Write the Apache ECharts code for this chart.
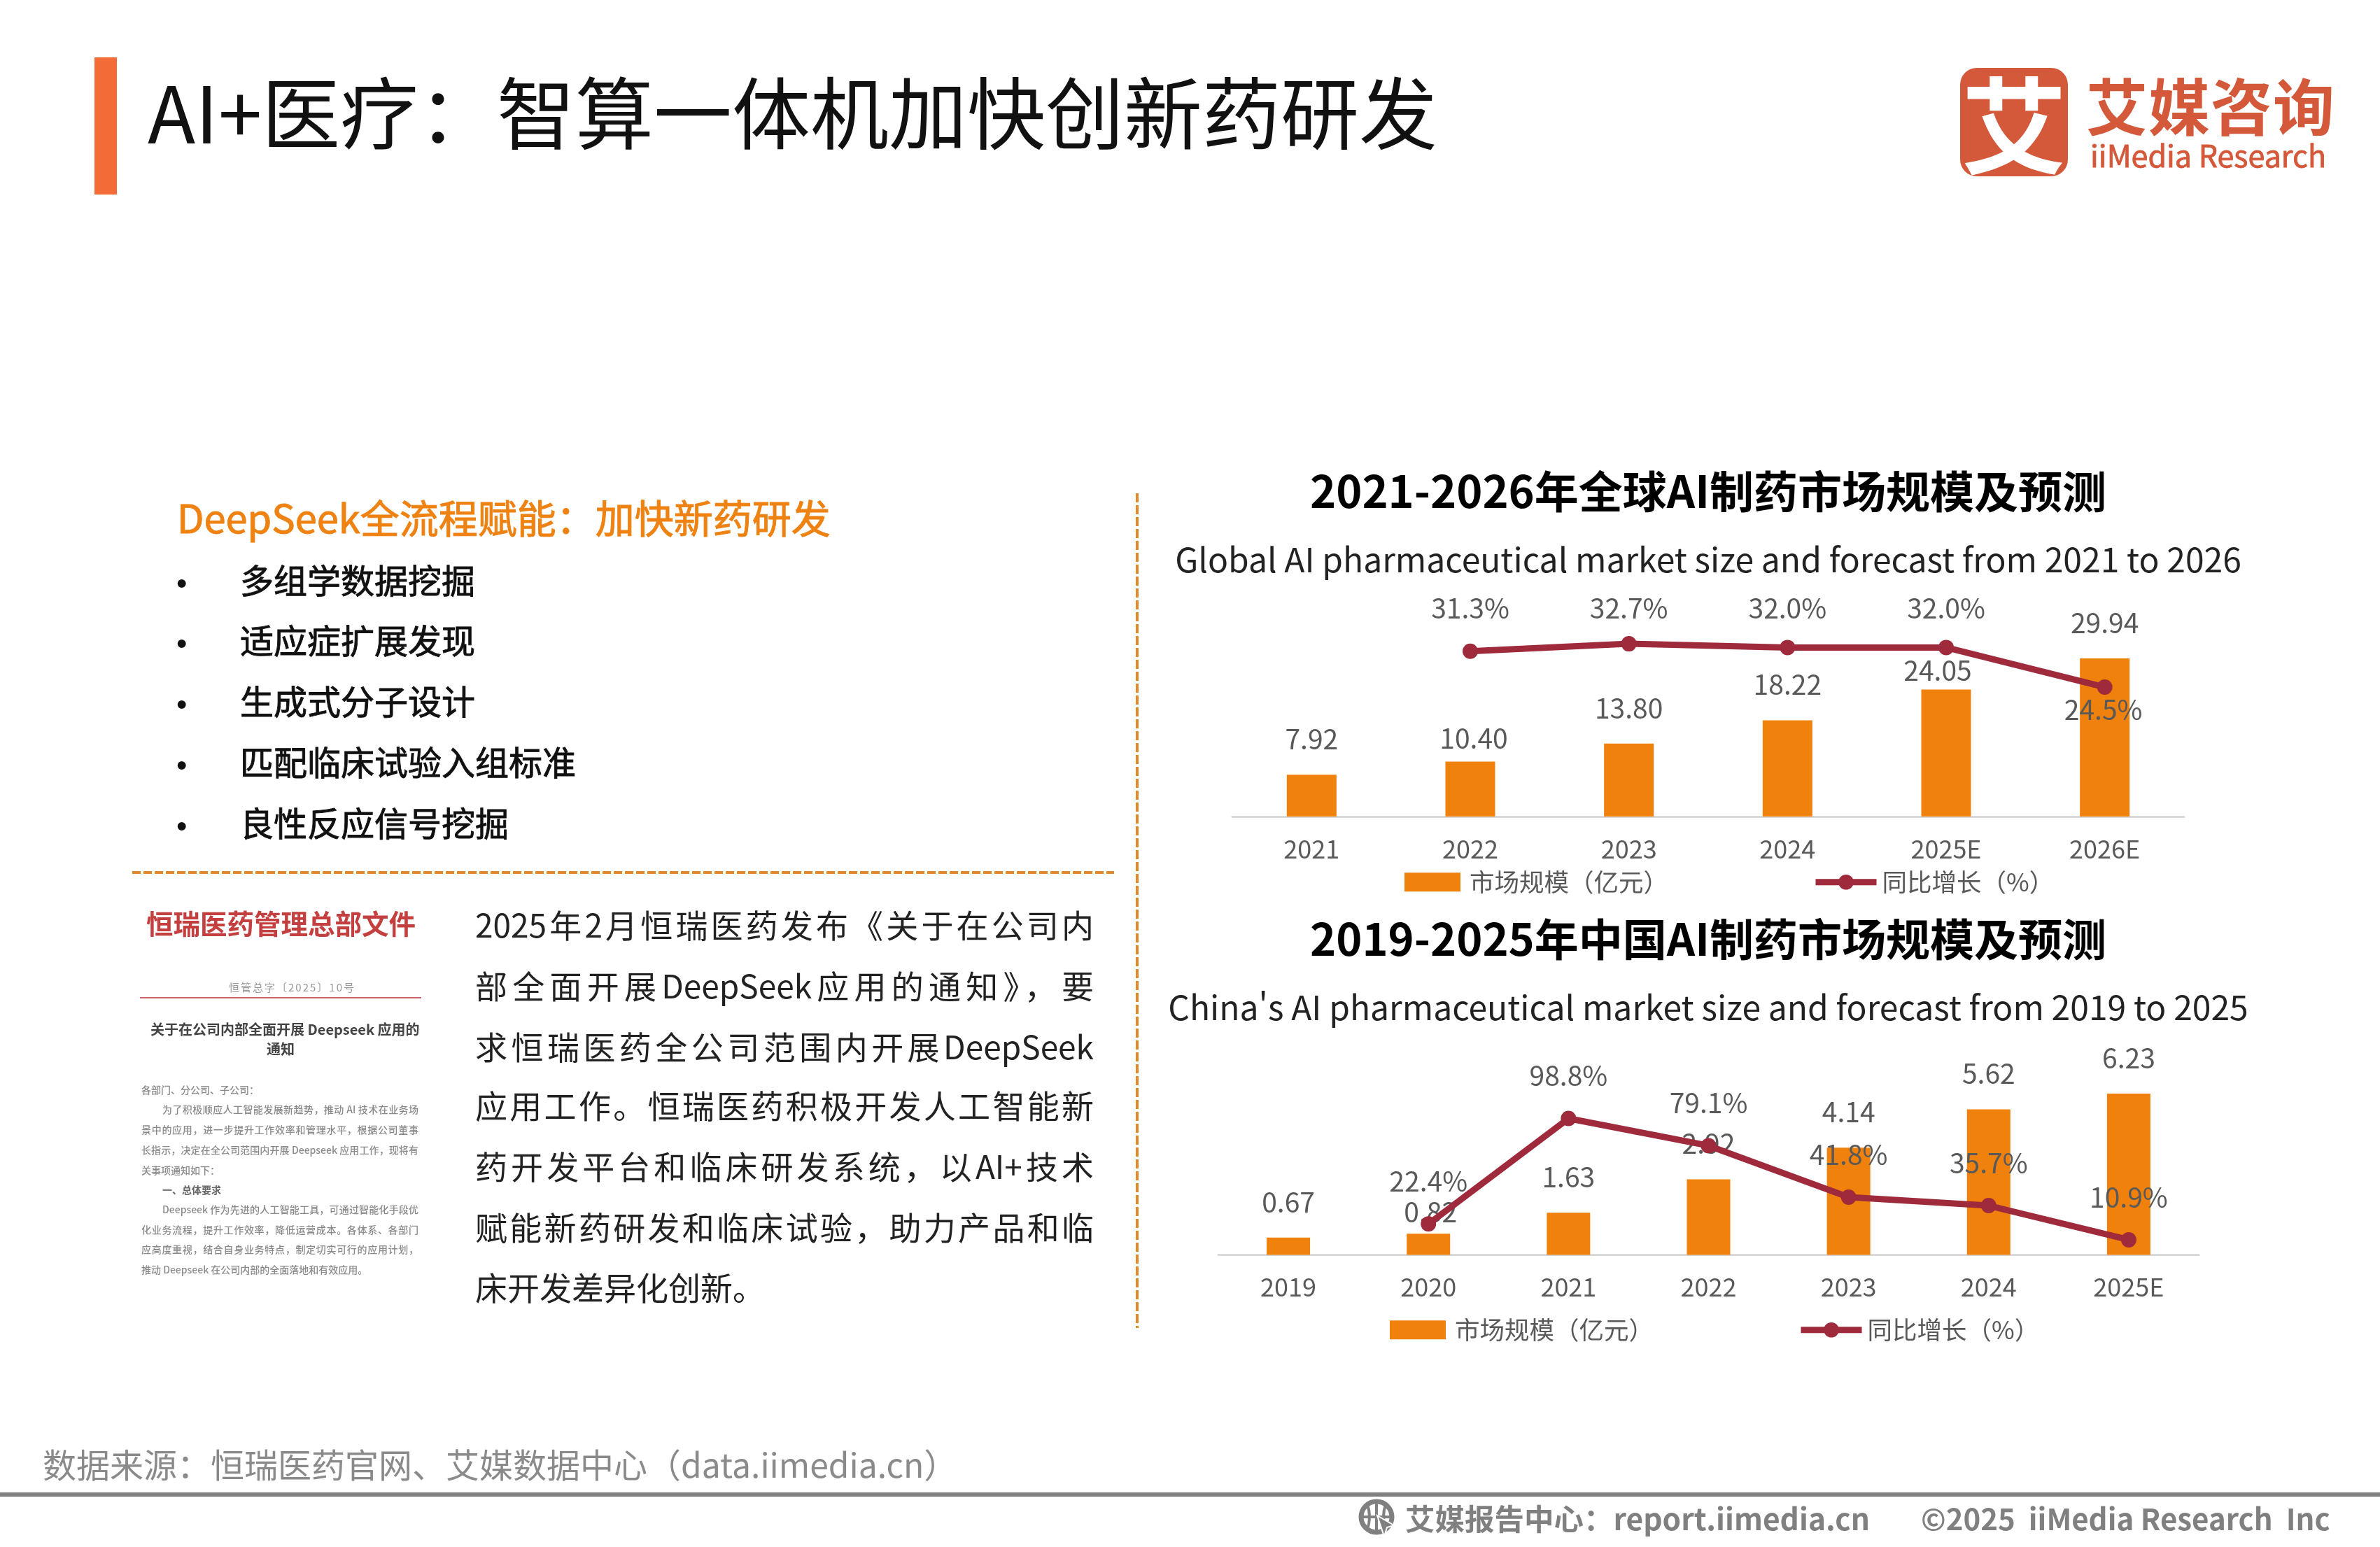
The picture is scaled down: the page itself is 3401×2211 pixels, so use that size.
<!DOCTYPE html>
<html lang="zh-CN">
<head>
<meta charset="UTF-8">
<title>AI+医疗：智算一体机加快创新药研发</title>
<script src="https://cdn.jsdelivr.net/npm/echarts@6/dist/echarts.min.js"></script>
<style>
html,body{margin:0;padding:0;background:#fff;}
body{width:3401px;height:2211px;position:relative;overflow:hidden;font-family:"Noto Sans CJK SC","Noto Sans",sans-serif;}
#chart{position:absolute;left:0;top:0;width:3401px;height:2211px;}
.abs{position:absolute;white-space:nowrap;line-height:1;}
.bar-mark{position:absolute;left:135px;top:82px;width:32px;height:196px;background:#F36B36;}
.main-title{left:211px;top:100px;font-size:112px;color:#111;}
.logo-box{position:absolute;left:2801px;top:97px;width:154px;height:155px;border-radius:24px;background:#D4583A;color:#fff;font-size:150px;font-weight:bold;line-height:150px;text-align:center;overflow:hidden;}
.logo-cn{left:2981px;top:104px;font-size:88px;font-weight:bold;color:#D4583A;letter-spacing:1px;}
.logo-en{left:2987px;top:199px;font-size:43px;color:#D4583A;-webkit-text-stroke:.8px #D4583A;}
.lead{left:253px;top:710px;font-size:56px;color:#EE8212;-webkit-text-stroke:1px #EE8212;}
.item{left:343px;font-size:48px;color:#111;-webkit-text-stroke:.9px #111;}
.dot{left:252px;font-family:"Liberation Sans";font-size:44px;color:#111;}
.hline{position:absolute;left:189px;top:1245px;width:1403px;height:4px;background:repeating-linear-gradient(90deg,#E08B2A 0 12px,transparent 12px 16px);}
.vline{position:absolute;left:1623px;top:705px;width:4px;height:1193px;background:repeating-linear-gradient(180deg,#E08B2A 0 13px,transparent 13px 17px);}
.para{position:absolute;left:679px;width:884px;font-size:46px;line-height:60px;color:#222;text-align:justify;text-align-last:justify;text-justify:inter-character;}
.para.last{text-align-last:left;}
.doc-red{left:209px;top:1299px;font-size:38.5px;font-weight:bold;color:#C44040;}
.doc-no{left:327px;top:1403px;font-size:15px;color:#999;letter-spacing:2px;}
.doc-rule{position:absolute;left:200px;top:1425px;width:402px;height:2px;background:#CC6666;}
.doc-h{left:215px;font-size:20px;font-weight:bold;color:#444;}
.doc-p{position:absolute;left:202px;width:396px;font-size:14px;line-height:20px;color:#8a8a8a;font-weight:500;text-align:justify;text-align-last:justify;text-justify:inter-character;}
.doc-p.last{text-align-last:left;}
.source{left:61px;top:2067px;font-size:48px;color:#8a8a8a;}
.foot-line{position:absolute;left:0;top:2133px;width:3401px;height:6px;background:#808080;}
.foot{top:2148px;font-size:42.5px;font-weight:bold;color:#808080;}
</style>
</head>
<body>
<div id="chart"></div>

<div class="bar-mark"></div>
<div class="abs main-title">AI+医疗：智算一体机加快创新药研发</div>
<div class="logo-box">艾</div>
<div class="abs logo-cn">艾媒咨询</div>
<div class="abs logo-en">iiMedia Research</div>

<div class="abs lead">DeepSeek全流程赋能：加快新药研发</div>
<div class="abs dot" style="top:812px">•</div><div class="abs item" style="top:803px">多组学数据挖掘</div>
<div class="abs dot" style="top:898px">•</div><div class="abs item" style="top:889px">适应症扩展发现</div>
<div class="abs dot" style="top:985px">•</div><div class="abs item" style="top:976px">生成式分子设计</div>
<div class="abs dot" style="top:1072px">•</div><div class="abs item" style="top:1063px">匹配临床试验入组标准</div>
<div class="abs dot" style="top:1159px">•</div><div class="abs item" style="top:1150px">良性反应信号挖掘</div>
<div class="hline"></div>
<div class="vline"></div>

<div class="abs doc-red">恒瑞医药管理总部文件</div>
<div class="abs doc-no">恒管总字〔2025〕10号</div>
<div class="doc-rule"></div>
<div class="abs doc-h" style="top:1461px">关于在公司内部全面开展 Deepseek 应用的</div>
<div class="abs doc-h" style="top:1489px;left:381px">通知</div>
<div class="doc-p last" style="top:1547px">各部门、分公司、子公司：</div>
<div class="doc-p" style="top:1575px;left:232px;width:366px">为了积极顺应人工智能发展新趋势，推动 AI 技术在业务场</div>
<div class="doc-p" style="top:1604px">景中的应用，进一步提升工作效率和管理水平，根据公司董事</div>
<div class="doc-p" style="top:1633px">长指示，决定在全公司范围内开展 Deepseek 应用工作，现将有</div>
<div class="doc-p last" style="top:1662px">关事项通知如下：</div>
<div class="doc-p last" style="top:1690px;left:232px;font-weight:bold;color:#666">一、总体要求</div>
<div class="doc-p" style="top:1718px;left:232px;width:366px">Deepseek 作为先进的人工智能工具，可通过智能化手段优</div>
<div class="doc-p" style="top:1747px">化业务流程，提升工作效率，降低运营成本。各体系、各部门</div>
<div class="doc-p" style="top:1775px">应高度重视，结合自身业务特点，制定切实可行的应用计划，</div>
<div class="doc-p last" style="top:1804px">推动 Deepseek 在公司内部的全面落地和有效应用。</div>

<div class="para" style="top:1290px">2025年2月恒瑞医药发布《关于在公司内</div>
<div class="para" style="top:1377px">部全面开展DeepSeek应用的通知》，要</div>
<div class="para" style="top:1464px">求恒瑞医药全公司范围内开展DeepSeek</div>
<div class="para" style="top:1548px">应用工作。恒瑞医药积极开发人工智能新</div>
<div class="para" style="top:1635px">药开发平台和临床研发系统，以AI+技术</div>
<div class="para" style="top:1722px">赋能新药研发和临床试验，助力产品和临</div>
<div class="para last" style="top:1808px">床开发差异化创新。</div>

<div class="abs source">数据来源：恒瑞医药官网、艾媒数据中心（data.iimedia.cn）</div>
<div class="foot-line"></div>
<svg style="position:absolute;left:1940px;top:2142px" width="56" height="56" viewBox="0 0 56 56">
  <circle cx="27" cy="26" r="22" fill="none" stroke="#808080" stroke-width="7"/>
  <path d="M5 26H49M27 4V48M14 8Q20 26 14 44M40 8Q34 26 40 44" fill="none" stroke="#808080" stroke-width="4"/>
  <path d="M28 24L52 38L42 41L38 54Z" fill="#808080" stroke="#fff" stroke-width="2"/>
</svg>
<div class="abs foot" style="left:2008px">艾媒报告中心：report.iimedia.cn</div>
<div class="abs foot" style="left:2745px;font-size:42px">©2025&nbsp; iiMedia Research&nbsp; Inc</div>

<script>
var globalYears = ['2021', '2022', '2023', '2024', '2025E', '2026E'];
var globalSize = [7.92, 10.40, 13.80, 18.22, 24.05, 29.94];
var globalGrowth = [null, 31.3, 32.7, 32.0, 32.0, 24.5];

var chinaYears = ['2019', '2020', '2021', '2022', '2023', '2024', '2025E'];
var chinaSize = [0.67, 0.82, 1.63, 2.92, 4.14, 5.62, 6.23];
var chinaGrowth = [null, 22.4, 98.8, 79.1, 41.8, 35.7, 10.9];

var sizeName = '市场规模（亿元）';
var growthName = '同比增长（%）';
var BAR = '#EF810C', LINE = '#9E2A3B', GREY = '#595959';
var FONT = '"Noto Sans CJK SC"';

// labels moved by hand in the original, keyed by data index
function nudgeBars(vals, moved) {
    return vals.map(function (v, i) {
        return moved[i] ? {value: v, label: {offset: moved[i]}} : v;
    });
}
function nudgeLine(vals, moved, below) {
    return vals.map(function (v, i) {
        if (below && below[i]) return {value: v, label: {position: 'bottom', distance: 1, offset: below[i]}};
        return moved[i] ? {value: v, label: {offset: moved[i]}} : v;
    });
}

function barSeries(idx, vals, moved, width) {
    return {
        name: sizeName, type: 'bar', xAxisIndex: idx, yAxisIndex: idx * 2, z: 2,
        barWidth: width, itemStyle: {color: BAR},
        label: {show: true, position: 'top', distance: 31, fontSize: 39, lineHeight: 40, fontFamily: FONT, color: GREY,
            formatter: function (p) { return p.value.toFixed(2); }},
        data: nudgeBars(vals, moved)
    };
}
function lineSeries(idx, vals, moved, below) {
    return {
        name: growthName, type: 'line', xAxisIndex: idx, yAxisIndex: idx * 2 + 1, z: 3,
        symbol: 'circle', symbolSize: 22, connectNulls: false,
        lineStyle: {color: LINE, width: 9}, itemStyle: {color: LINE},
        label: {show: true, position: 'top', distance: 30, fontSize: 39, lineHeight: 40, fontFamily: FONT, color: GREY,
            formatter: function (p) { return p.value.toFixed(1) + '%'; }},
        data: nudgeLine(vals, moved, below)
    };
}
function xAxis(idx, cats) {
    return {
        type: 'category', gridIndex: idx, data: cats,
        axisTick: {show: false},
        axisLine: {lineStyle: {color: '#D9D9D9', width: 3}},
        axisLabel: {color: GREY, fontSize: 36, fontFamily: FONT, margin: 28}
    };
}
function yAxis(idx, max) {
    return {type: 'value', gridIndex: idx, min: 0, max: max, show: false, splitLine: {show: false}};
}
function legend(name, left, top, w, gap) {
    return {
        data: [{name: name, icon: gap === 8 ? 'rect' : undefined}], left: left, top: top, itemWidth: w, itemHeight: 27, orient: 'horizontal',
        padding: 0, selectedMode: false,
        lineStyle: {width: 9},
        textStyle: {fontSize: 35.5, color: GREY, fontFamily: FONT, padding: [0, 0, 8, gap]}
    };
}
function titleBlock(text, sub, y1, y2) {
    return [
        {text: text, left: 2441, top: y1, textAlign: 'center', padding: 0,
            textStyle: {fontSize: 63, fontWeight: 'bold', color: '#000', fontFamily: FONT}},
        {text: sub, left: 2441, top: y2, textAlign: 'center', padding: 0,
            textStyle: {fontSize: 48, fontWeight: 'normal', color: '#222', fontFamily: FONT}}
    ];
}

var myChart = echarts.init(document.getElementById('chart'));
myChart.setOption({
    animation: false,
    title: titleBlock('2021-2026年全球AI制药市场规模及预测', 'Global AI pharmaceutical market size and forecast from 2021 to 2026', 671, 776)
        .concat(titleBlock('2019-2025年中国AI制药市场规模及预测', "China's AI pharmaceutical market size and forecast from 2019 to 2025", 1311, 1416)),
    legend: [
        legend(sizeName, 2007, 1243, 80, 8), legend(growthName, 2590, 1243, 87, 3),
        legend(sizeName, 1986, 1883, 80, 8), legend(growthName, 2569, 1883, 87, 3)
    ],
    grid: [
        {left: 1761, top: 865, width: 1360, height: 302},
        {left: 1741, top: 1497.5, width: 1401, height: 296}
    ],
    xAxis: [xAxis(0, globalYears), xAxis(1, chinaYears)],
    yAxis: [yAxis(0, 40), yAxis(0, 40), yAxis(1, 8), yAxis(1, 150)],
    series: [
        barSeries(0, globalSize, {1: [5, 18], 4: [-12, 24]}, 71),
        lineSeries(0, globalGrowth, {2: [0, 10], 3: [0, 5], 4: [0, 5]}, {5: [-2, 0]}),
        barSeries(1, chinaSize, {1: [3, 20]}, 62),
        lineSeries(1, chinaGrowth, {})
    ]
});
</script>
</body>
</html>
